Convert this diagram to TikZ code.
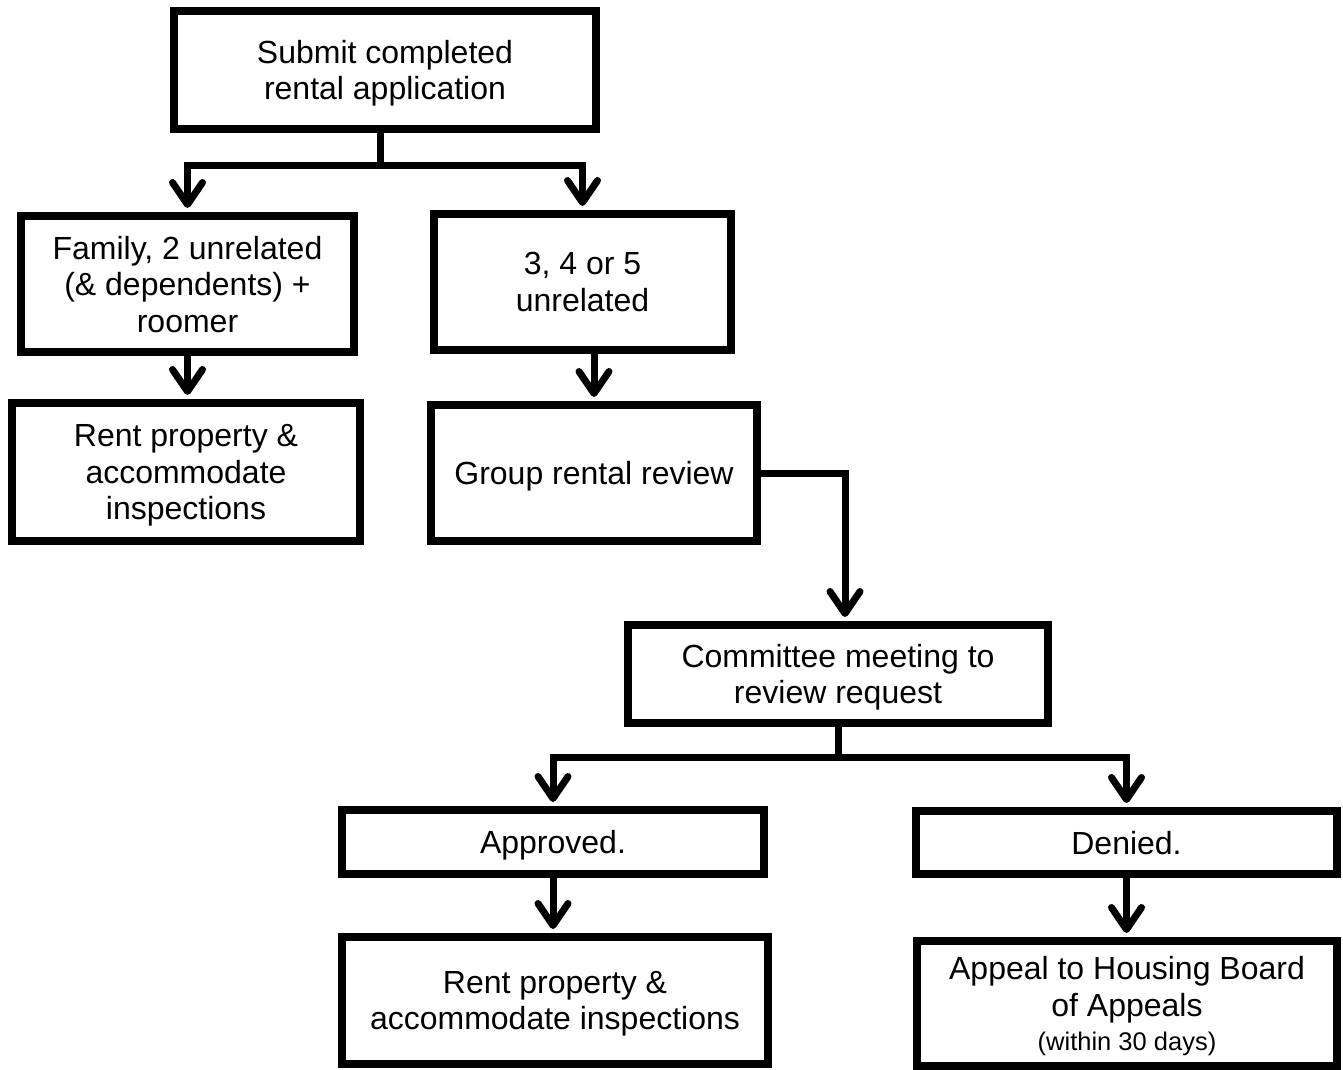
\documentclass[tikz,border=0pt]{standalone}
\usepackage{fontspec}
\setmainfont{Liberation Sans}
\usetikzlibrary{arrows.meta}
\newcommand\nodepth[1]{\raisebox{0pt}[\height][0pt]{#1}}
\begin{document}
\begin{tikzpicture}[x=1pt,y=-1pt,
  box/.style={draw=black, line width=8pt, fill=white, align=center, inner sep=0pt,
    font=\fontsize{32}{36.5}\selectfont},
  conn/.style={draw=black, line width=7pt, line join=miter},
  arr/.style={conn, -{Straight Barb[length=22pt,width=30pt,round]}, shorten >=4pt}]
\useasboundingbox (0,0) rectangle (1343,1070);

\node[box, minimum width=422pt, minimum height=118pt] (submit) at (385,70)
  {Submit completed\\\nodepth{rental application}};
\node[box, minimum width=333pt, minimum height=136pt] (family) at (187.5,284)
  {Family, 2 unrelated\\(\& dependents) +\\\nodepth{roomer}};
\node[box, minimum width=297pt, minimum height=136pt] (three) at (582.5,282)
  {3, 4 or 5\\\nodepth{unrelated}};
\node[box, minimum width=348pt, minimum height=138pt] (rentL) at (186,472)
  {Rent property \&\\accommodate\\\nodepth{inspections}};
\node[box, minimum width=326pt, minimum height=136pt] (group) at (594,473)
  {\nodepth{Group rental review}};
\node[box, minimum width=420pt, minimum height=98pt] (committee) at (838,674)
  {Committee meeting to\\\nodepth{review request}};
\node[box, minimum width=422pt, minimum height=64pt] (approved) at (553,842)
  {\nodepth{Approved.}};
\node[box, minimum width=421pt, minimum height=63pt] (denied) at (1126.5,842.5)
  {\nodepth{Denied.}};
\node[box, minimum width=426pt, minimum height=127pt] (rentB) at (555,1000.5)
  {Rent property \&\\\nodepth{accommodate inspections}};
\node[box, minimum width=420pt, minimum height=125pt] (appeal) at (1127,1003.5)
  {Appeal to Housing Board\\of Appeals\\[-2pt]\nodepth{\fontsize{25.5}{30}\selectfont (within 30 days)}};

\coordinate (j1) at (380,165);
\coordinate (j2) at (838,757);

\draw[conn] ([xshift=-5pt]submit.south) -- (j1);
\draw[arr] (j1) -| (family.north);
\draw[arr] (j1) -| (three.north);
\draw[arr] (family.south) -- (family.south |- rentL.north);
\draw[arr] (group.north |- three.south) -- (group.north);
\draw[arr] (group.east) -| ([xshift=7pt]committee.north);
\draw[conn] (committee.south) -- (j2);
\draw[arr] (j2) -| (approved.north);
\draw[arr] (j2) -| (denied.north);
\draw[arr] (approved.south) -- (approved.south |- rentB.north);
\draw[arr] (denied.south) -- (denied.south |- appeal.north);
\end{tikzpicture}
\end{document}
